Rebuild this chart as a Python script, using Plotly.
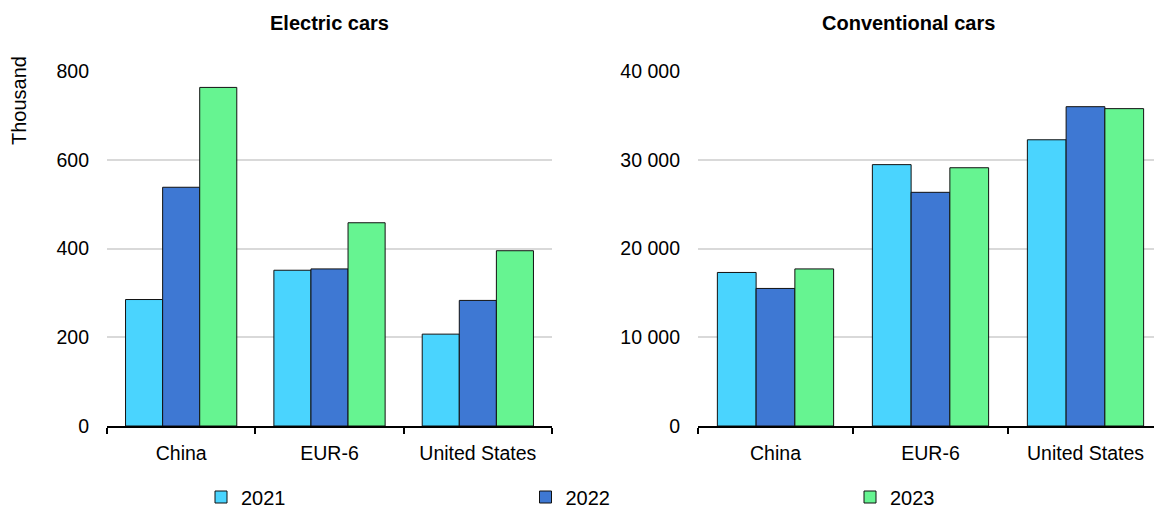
import plotly.graph_objects as go

regions = ["China", "EUR-6", "United States"]
years = ["2021", "2022", "2023"]
electric = {
    "2021": [285, 351, 207],
    "2022": [538, 354, 283],
    "2023": [763, 458, 395],
}
conventional = {
    "2021": [17300, 29450, 32250],
    "2022": [15500, 26330, 35980],
    "2023": [17700, 29100, 35760],
}
colors = {"2021": "#4AD4FE", "2022": "#3E78D3", "2023": "#66F491"}
legend_ids = {"2021": "legend", "2022": "legend2", "2023": "legend3"}
legend_px = {"2021": 201, "2022": 525.5, "2023": 850}

FONT = "Liberation Sans, Arial, sans-serif"
W, H = 1154, 510
ML, MR, MT, MB = 0, 0, 71, 84

fig = go.Figure()
for y in years:
    fig.add_trace(go.Bar(
        x=regions, y=electric[y], name=y, xaxis="x", yaxis="y",
        marker=dict(color=colors[y], line=dict(color="#111111", width=1)),
        legendgroup=y, showlegend=True, legend=legend_ids[y],
    ))
for y in years:
    fig.add_trace(go.Bar(
        x=regions, y=conventional[y], name=y, xaxis="x2", yaxis="y2",
        marker=dict(color=colors[y], line=dict(color="#111111", width=1)),
        legendgroup=y, showlegend=False, legend=legend_ids[y],
    ))

def px_x(p):
    return p / W

def px_y(p):
    return (H - MB - p) / (H - MT - MB)

xcommon = dict(
    type="category", showline=True, linecolor="black", linewidth=2,
    ticks="outside", tickson="boundaries", ticklen=6, tickwidth=1.5,
    tickcolor="black", showgrid=False, tickfont=dict(size=19.5, color="black"),
    ticklabelstandoff=9, fixedrange=True,
)
ycommon = dict(
    showline=False, showgrid=True, gridcolor="#d9d9d9", gridwidth=1.5,
    zeroline=False, ticks="", tickfont=dict(size=19.5, color="black"),
    ticklabelstandoff=17, fixedrange=True,
)

def legend_cfg(y):
    return dict(
        orientation="h", x=px_x(legend_px[y]), xanchor="left",
        y=px_y(497), yanchor="middle", borderwidth=0,
        font=dict(size=20, color="black"), bgcolor="rgba(0,0,0,0)",
    )

fig.update_layout(
    width=W, height=H,
    margin=dict(l=ML, r=MR, t=MT, b=MB, autoexpand=False),
    paper_bgcolor="white", plot_bgcolor="white",
    font=dict(family=FONT, size=20, color="black"),
    barmode="group", bargap=0.25, bargroupgap=0,
    separators=". ",
    xaxis=dict(domain=[px_x(107), px_x(552)], range=[-0.5, 2.5], **xcommon),
    xaxis2=dict(domain=[px_x(698), 1.0], range=[-0.5, 2.442], anchor="y2", **xcommon),
    yaxis=dict(range=[0, 800], dtick=200, anchor="x", **ycommon),
    yaxis2=dict(range=[0, 40000], dtick=10000, tickformat=",d", anchor="x2", **ycommon),
    legend=legend_cfg("2021"),
    legend2=legend_cfg("2022"),
    legend3=legend_cfg("2023"),
    showlegend=True,
)

fig.add_annotation(text="<b>Electric cars</b>", xref="paper", yref="paper",
                   x=px_x(329), y=px_y(23), xanchor="center", yanchor="middle",
                   showarrow=False, font=dict(size=20, color="black"))
fig.add_annotation(text="<b>Conventional cars</b>", xref="paper", yref="paper",
                   x=px_x(908), y=px_y(23), xanchor="center", yanchor="middle",
                   showarrow=False, font=dict(size=20, color="black"))
fig.add_annotation(text="Thousand", xref="paper", yref="paper",
                   x=px_x(19), y=px_y(101), xanchor="center", yanchor="middle",
                   textangle=-90, showarrow=False, font=dict(size=20, color="black"))

fig.write_html(
    "out.html",
    config={"displayModeBar": False},
    post_script="document.body.style.margin='0';document.body.style.overflow='hidden';",
)
